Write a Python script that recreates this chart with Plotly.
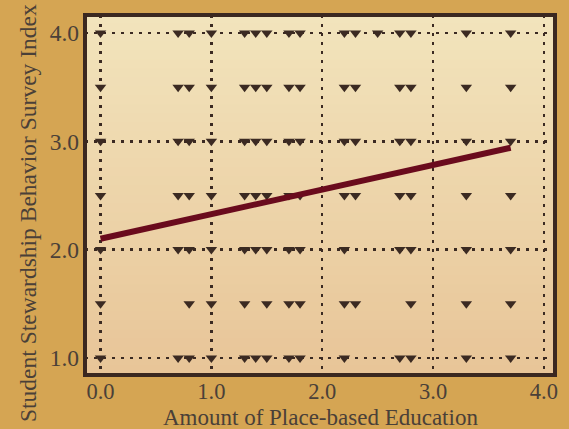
import plotly.graph_objects as go

# x positions (amount of place-based education) of observations on each survey-index row
row_4_0 = [0.0, 0.7, 0.8, 1.0, 1.3, 1.4, 1.5, 1.7, 1.8, 2.2, 2.3, 2.5, 2.7, 2.8, 3.3, 3.7]
row_3_5 = [0.0, 0.7, 0.8, 1.0, 1.3, 1.4, 1.5, 1.7, 1.8, 2.2, 2.3, 2.7, 2.8, 3.3, 3.7]
row_3_0 = [0.0, 0.7, 0.8, 1.0, 1.3, 1.4, 1.5, 1.7, 1.8, 2.2, 2.3, 2.7, 2.8, 3.3, 3.7]
row_2_5 = [0.0, 0.7, 0.8, 1.0, 1.3, 1.4, 1.5, 1.7, 1.8, 2.2, 2.3, 2.7, 2.8, 3.3, 3.7]
row_2_0 = [0.0, 0.7, 0.8, 1.0, 1.3, 1.4, 1.5, 1.7, 1.8, 2.2, 2.7, 2.8, 3.3, 3.7]
row_1_5 = [0.0, 0.8, 1.0, 1.3, 1.5, 1.7, 1.8, 2.2, 2.3, 2.8, 3.3, 3.7]
row_1_0 = [0.0, 0.7, 0.8, 1.0, 1.3, 1.4, 1.5, 1.7, 1.8, 2.2, 2.7, 2.8, 3.3, 3.7]

row_levels = [4.0, 3.5, 3.0, 2.5, 2.0, 1.5, 1.0]
rows = [row_4_0, row_3_5, row_3_0, row_2_5, row_2_0, row_1_5, row_1_0]

# fitted regression line (endpoints)
fit_x = [0.0, 3.7]
fit_y = [2.10, 2.94]

tick_vals = [0, 1, 2, 3, 4]
tick_text = ["0.0", "1.0", "2.0", "3.0", "4.0"]
ytick_vals = [1, 2, 3, 4]
ytick_text = ["1.0", "2.0", "3.0", "4.0"]

x_title = "Amount of Place-based Education"
y_title = "Student Stewardship Behavior Survey Index"

pts_x, pts_y = [], []
for lvl, xs in zip(row_levels, rows):
    pts_x += xs
    pts_y += [lvl] * len(xs)

fig = go.Figure()
fig.add_trace(go.Scatter(
    x=pts_x, y=pts_y, mode="markers",
    marker=dict(symbol="triangle-down", size=10, color="#3b2a22"),
    showlegend=False, hoverinfo="skip"))
fig.add_trace(go.Scatter(
    x=fit_x, y=fit_y, mode="lines",
    line=dict(color="#6a0b1d", width=6),
    showlegend=False, hoverinfo="skip"))

# vertical gradient for plot background
top = (242, 228, 188)
bot = (232, 197, 152)
N = 40
shapes = []
for i in range(N):
    t = i / (N - 1)
    c = tuple(int(round(top[k] + (bot[k] - top[k]) * t)) for k in range(3))
    y1 = 1 - i / N
    y0 = 1 - (i + 1) / N
    shapes.append(dict(type="rect", xref="x domain", yref="y domain",
                       x0=0, x1=1, y0=y0 - 0.002, y1=y1 + 0.002,
                       fillcolor="rgb(%d,%d,%d)" % c, line=dict(width=0),
                       layer="below"))
# frame
shapes.append(dict(type="rect", xref="x domain", yref="y domain",
                   x0=0, x1=1, y0=0, y1=1,
                   line=dict(color="#3b2820", width=4), layer="above"))

font_serif = "Liberation Serif, DejaVu Serif, serif"
txt_col = "#4a4038"
paper = "#d5a553"
W, H = 569, 429
ml, mr, mt, mb = 85, 14, 15, 54
ph = H - mt - mb
pw = W - ml - mr

annotations = [
    dict(text=x_title, xref="paper", yref="paper",
         x=(320 - ml) / pw, y=-(mb + 3) / ph,
         xanchor="center", yanchor="bottom",
         showarrow=False, font=dict(size=23, family=font_serif, color=txt_col)),
    dict(text=y_title, xref="paper", yref="paper", textangle=-90,
         x=-(ml - 28) / pw, y=(H - mb - 213) / ph,
         xanchor="center", yanchor="middle",
         showarrow=False, font=dict(size=23.5, family=font_serif, color=txt_col)),
]

fig.update_layout(
    width=W, height=H,
    margin=dict(l=ml, r=mr, t=mt, b=mb),
    paper_bgcolor=paper,
    plot_bgcolor="#efdcb0",
    shapes=shapes,
    annotations=annotations,
    font=dict(family=font_serif, color=txt_col, size=23),
    xaxis=dict(
        range=[-0.14, 4.10], tickvals=tick_vals, ticktext=tick_text,
        showgrid=True, gridcolor="#3b2a22", gridwidth=2.5, griddash="2.5px,6.5px",
        zeroline=False, showline=False, ticks="", automargin=False,
        ticklabelstandoff=0,
        tickfont=dict(size=22.5, family=font_serif, color=txt_col),
    ),
    yaxis=dict(
        range=[0.842, 4.166], tickvals=ytick_vals, ticktext=ytick_text,
        showgrid=True, gridcolor="#3b2a22", gridwidth=2.5, griddash="2.5px,6.5px",
        zeroline=False, showline=False, ticks="", automargin=False,
        ticklabelstandoff=5,
        tickfont=dict(size=23.5, family=font_serif, color=txt_col),
    ),
)

fig.write_html(
    "out.html",
    config={"displayModeBar": False, "staticPlot": True},
    post_script="document.body.style.margin='0';document.body.style.padding='0';"
                "document.body.style.background='" + paper + "';"
                "document.body.style.overflow='hidden';",
)
